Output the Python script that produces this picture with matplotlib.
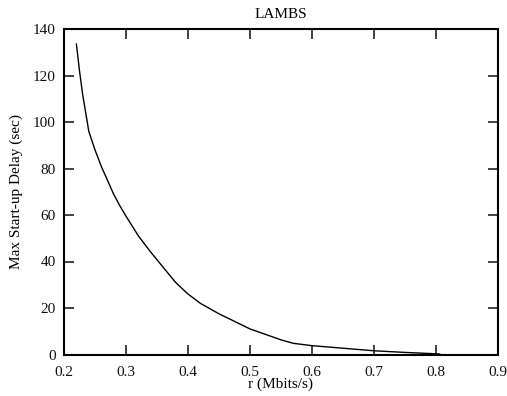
import matplotlib
matplotlib.use("Agg")
import matplotlib.pyplot as plt

rate = [0.22, 0.225, 0.23, 0.235, 0.24, 0.25, 0.26, 0.27, 0.28, 0.29, 0.30,
        0.32, 0.34, 0.36, 0.38, 0.40, 0.42, 0.45, 0.50, 0.55, 0.57, 0.60,
        0.65, 0.70, 0.75, 0.80, 0.806]
delay = [133.5, 122.0, 112.0, 104.0, 96.0, 88.0, 81.0, 75.0, 69.0, 64.0, 59.5,
         51.0, 44.0, 37.5, 31.0, 26.0, 22.0, 17.5, 11.0, 6.3, 4.8, 3.8,
         2.7, 1.6, 0.9, 0.3, 0.2]

xticks = [0.2, 0.3, 0.4, 0.5, 0.6, 0.7, 0.8, 0.9]
yticks = [0, 20, 40, 60, 80, 100, 120, 140]

plt.rcParams['font.family'] = ['Liberation Serif', 'DejaVu Serif']

fig = plt.figure(figsize=(5.07, 3.96), dpi=100)
ax = fig.add_axes([64/507, 1 - 354.5/396, (498-64)/507, (354.5-29)/396])
ax.plot(rate, delay, color='black', lw=1.0)
ax.set_xlim(0.2, 0.9)
ax.set_ylim(0, 140)
ax.set_xticks(xticks)
ax.set_xticklabels([f"{t:.1f}" for t in xticks])
ax.set_yticks(yticks)
ax.set_yticklabels([str(t) for t in yticks])
ax.tick_params(direction='in', length=7, width=1.3, top=True, right=True,
               labelsize=11, color='#333333', labelcolor='#111111')
ax.tick_params(axis='x', pad=8)
ax.tick_params(axis='y', pad=6)
for s in ax.spines.values():
    s.set_linewidth(1.5)
ax.set_title("LAMBS", fontsize=11, pad=8)
ax.set_xlabel("r (Mbits/s)", fontsize=11, labelpad=-1)
ax.set_ylabel("Max Start-up Delay (sec)", fontsize=11, labelpad=7)
fig.savefig("out.png", dpi=100)
